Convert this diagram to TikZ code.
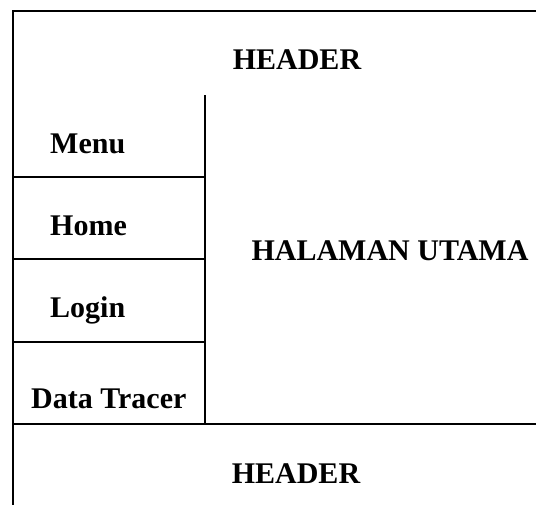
\documentclass[tikz,border=0pt]{standalone}
\usepackage{fontspec}
\setmainfont{Liberation Serif}
\begin{document}
\begin{tikzpicture}[x=1pt,y=-1pt,
  frame/.style={line width=1.5pt, line cap=rect},
  lbl/.style={font=\fontsize{30}{35}\selectfont\bfseries, inner sep=0pt}]
\useasboundingbox (0,0) rectangle (536,504);
% corner coordinates
\coordinate (tl) at (13,11);
\coordinate (tr) at (536,11);
\coordinate (bl) at (13,504);
\coordinate (dtop) at (205,96);
\coordinate (dbot) at (205,424);
\coordinate (h1l) at (13,177); \coordinate (h1r) at (205,177);
\coordinate (h2l) at (13,259); \coordinate (h2r) at (205,259);
\coordinate (h3l) at (13,342); \coordinate (h3r) at (205,342);
\coordinate (fl) at (13,424); \coordinate (fr) at (536,424);
% frame lines
\draw[frame] (tr) -- (tl) -- (bl);
\draw[frame] (dtop) -- (dbot);
\draw[frame] (h1l) -- (h1r);
\draw[frame] (h2l) -- (h2r);
\draw[frame] (h3l) -- (h3r);
\draw[frame] (fl) -- (fr);
% labels
\node[lbl, anchor=base] (header) at (297,69) {HEADER};
\node[lbl, anchor=base west] (menu) at (50,153) {Menu};
\node[lbl, anchor=base west] (home) at (50,235) {Home};
\node[lbl, anchor=base west] (login) at (50,317) {Login};
\node[lbl, anchor=base west] (tracer) at (31,408) {Data Tracer};
\node[lbl, anchor=base] (main) at (390,260) {HALAMAN UTAMA};
\node[lbl, anchor=base] (footer) at (296,483) {HEADER};
\end{tikzpicture}
\end{document}
